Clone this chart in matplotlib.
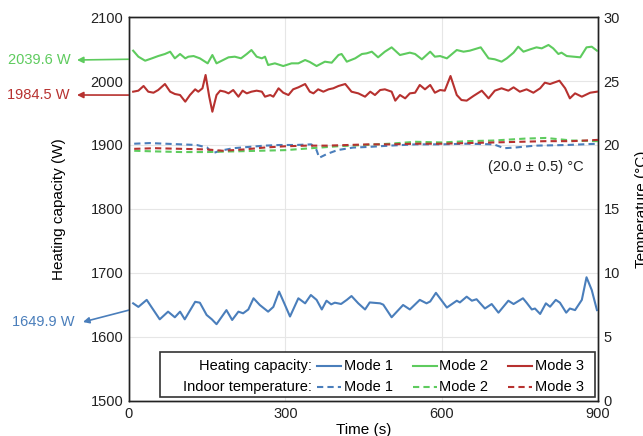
import matplotlib
matplotlib.use('Agg')
import matplotlib.pyplot as plt
from matplotlib.lines import Line2D
from matplotlib.patches import Rectangle

plt.rcParams['font.family'] = ['Liberation Sans', 'DejaVu Sans']

# Heating capacity, mode 1 (time in s, capacity in W)
t_m1 = [8, 18, 34, 43, 59, 75, 88, 98, 107, 127, 136, 149, 159, 168, 187, 198, 210, 219,
        229, 239, 251, 267, 277, 288, 298, 309, 325, 338, 349, 360, 370, 379, 388, 395,
        407, 418, 427, 440, 453, 462, 482, 488, 504, 526, 539, 558, 571, 578, 589, 610,
        629, 635, 648, 658, 667, 683, 696, 709, 728, 738, 756, 763, 773, 779, 789, 800,
        808, 819, 827, 839, 846, 856, 869, 878, 888, 898]
q_m1 = [1652.6, 1647, 1658, 1647, 1627.6, 1639.6, 1630.8, 1639.6, 1627.6, 1655, 1653.6,
        1634.4, 1627.6, 1620, 1642, 1626.6, 1639.6, 1637, 1643, 1660.5, 1650, 1639.6,
        1647, 1671, 1652.6, 1632, 1660.5, 1652.6, 1665.6, 1658, 1643, 1656.7, 1651,
        1653.6, 1651.6, 1658, 1664, 1652.6, 1643, 1654, 1652.6, 1650.5, 1630.8, 1650,
        1643, 1658, 1652.6, 1655.5, 1669, 1646, 1656.7, 1654, 1663, 1656.7, 1659, 1644.5,
        1651.5, 1638, 1656.7, 1651.5, 1660.5, 1653.6, 1643, 1644.5, 1636, 1652.6, 1647.3,
        1658, 1653.6, 1638, 1644.5, 1642, 1658, 1693.3, 1673.4, 1642]

# Heating capacity, mode 2
t_m2 = [8, 18, 31, 44, 56, 69, 79, 88, 98, 108, 114, 124, 136, 151, 160, 168, 178, 191,
        203, 215, 226, 235, 245, 255, 261, 267, 280, 296, 312, 325, 338, 347, 360, 376,
        389, 402, 408, 418, 434, 447, 456, 466, 478, 491, 504, 520, 539, 549, 562, 578,
        587, 597, 610, 629, 642, 654, 675, 690, 702, 715, 725, 738, 747, 757, 770, 782,
        792, 805, 814, 824, 830, 840, 853, 866, 878, 888, 898]
q_m2 = [2047.4, 2038, 2031.7, 2035.4, 2039, 2042.2, 2045.8, 2035.4, 2042.2, 2035.4, 2038,
        2039, 2035.4, 2027.6, 2040.6, 2027.6, 2031.7, 2037, 2038, 2035.4, 2042.2, 2048.4,
        2038, 2035.4, 2038, 2025, 2027.6, 2023.4, 2027.6, 2027.6, 2032.8, 2029.7, 2023.4,
        2030.2, 2028.6, 2040.6, 2042.2, 2030.2, 2035.4, 2042.2, 2043.2, 2045.8, 2037,
        2045.8, 2052.6, 2040.6, 2044.3, 2042.2, 2033.9, 2045.8, 2038, 2039, 2035.4,
        2048.4, 2045.8, 2047.4, 2052.6, 2035.4, 2033.9, 2030.2, 2035.4, 2044.3, 2053.6,
        2045.8, 2049.5, 2052.6, 2051, 2056.3, 2051, 2042.2, 2044.3, 2039, 2038, 2037,
        2052.6, 2053.6, 2047.4]

# Heating capacity, mode 3
t_m3 = [8, 18, 28, 37, 47, 56, 69, 79, 88, 98, 108, 117, 127, 133, 141, 147, 154, 160,
        168, 175, 184, 191, 200, 210, 218, 226, 235, 245, 255, 261, 271, 277, 287, 296,
        306, 315, 325, 338, 347, 354, 363, 373, 383, 392, 402, 415, 427, 440, 453, 463,
        472, 482, 491, 504, 511, 520, 530, 539, 549, 558, 568, 578, 587, 597, 606, 617,
        629, 638, 648, 661, 677, 690, 702, 715, 728, 738, 750, 763, 776, 789, 798, 808,
        826, 837, 846, 856, 869, 885, 898]
q_m3 = [1983.3, 1984.9, 1992.2, 1983.3, 1981.7, 1985.9, 1995.3, 1983.3, 1979.7, 1978.1,
        1967.7, 1978.1, 1987, 1983.3, 1988.6, 2009.4, 1975.5, 1952, 1978.1, 1984.9,
        1983.3, 1980.7, 1985.9, 1975.5, 1984.9, 1980.7, 1983.3, 1984.9, 1983.3, 1975.5,
        1978.1, 1975.5, 1988.6, 1981.7, 1978.1, 1987, 1990.1, 1995.3, 1983.3, 1980.7,
        1987, 1983.3, 1987, 1988.6, 1992.2, 1995.3, 1983.3, 1980.7, 1975.5, 1983.3,
        1978.1, 1985.9, 1987, 1983.3, 1969.3, 1978.1, 1972.9, 1980.7, 1981.7, 1993.8,
        1987, 1993.8, 1981.7, 1985.9, 1984.9, 2007.8, 1978.1, 1970.3, 1969.3, 1976.6,
        1984.9, 1972.9, 1984.9, 1988.6, 1984.9, 1990.1, 1983.3, 1987, 1981.7, 1988.6,
        1997.4, 1995.3, 2000.5, 1988.6, 1972.9, 1980.7, 1975.5, 1981.7, 1983.3]

# Indoor temperature (°C)
t_T1 = [10, 40, 70, 100, 130, 150, 160, 175, 200, 230, 260, 290, 320, 350, 360, 365, 380,
        400, 430, 460, 500, 550, 600, 650, 700, 720, 740, 780, 840, 900]
T_m1 = [20.1, 20.15, 20.1, 20.05, 20.0, 19.8, 19.35, 19.55, 19.75, 19.85, 19.95, 20.0,
        20.0, 20.05, 19.6, 19.0, 19.3, 19.6, 19.8, 19.85, 19.95, 20.05, 20.05, 20.1,
        20.05, 19.75, 19.8, 19.95, 20.0, 20.1]
t_T2 = [10, 50, 100, 150, 200, 250, 300, 350, 400, 450, 500, 550, 600, 650, 700, 760,
        800, 850, 900]
T_m2 = [19.55, 19.5, 19.45, 19.45, 19.5, 19.55, 19.6, 19.75, 19.9, 20.0, 20.1, 20.25,
        20.2, 20.3, 20.35, 20.5, 20.55, 20.35, 20.3]
t_T3 = [10, 50, 100, 150, 180, 220, 260, 300, 340, 380, 420, 460, 500, 550, 600, 650,
        700, 750, 800, 850, 900]
T_m3 = [19.7, 19.75, 19.7, 19.65, 19.55, 19.65, 19.8, 19.9, 19.95, 19.95, 20.0, 20.05,
        20.05, 20.1, 20.1, 20.15, 20.2, 20.25, 20.3, 20.3, 20.4]

modes = ['Mode 1', 'Mode 2', 'Mode 3']
colors = ['#4a7ebb', '#5ecb5e', '#b7312f']
mean_labels = ['1649.9 W', '2039.6 W', '1984.5 W']

fig = plt.figure(figsize=(6.43, 4.36), dpi=100)
ax = fig.add_axes([0.2006, 0.0803, 0.7294, 0.8807])
ax2 = ax.twinx()

# capacity lines
for t, q, c in zip([t_m1, t_m2, t_m3], [q_m1, q_m2, q_m3], colors):
    ax.plot(t, q, color=c, lw=1.5, solid_joinstyle='round', zorder=3)

# temperature lines (dashed)
for t, T, c in zip([t_T1, t_T2, t_T3], [T_m1, T_m2, T_m3], colors):
    ax2.plot(t, T, color=c, lw=1.5, dashes=(3, 2))

ax.set_xlim(0, 900)
ax.set_ylim(1500, 2100)
ax.set_xticks([0, 300, 600, 900])
ax.set_yticks(range(1500, 2101, 100))
ax2.set_ylim(0, 30)
ax2.set_yticks(range(0, 31, 5))
ax.grid(True, color='#e6e6e6', lw=0.8)
ax.set_axisbelow(True)
for a in (ax, ax2):
    a.tick_params(length=0, labelsize=10.5, pad=4, colors='#222222')
    for s in a.spines.values():
        s.set_color('#222222')
        s.set_linewidth(1.0)
ax.set_xlabel('Time (s)', fontsize=11, labelpad=2)
ax.set_ylabel('Heating capacity (W)', fontsize=11, labelpad=18)
ax2.set_ylabel('Temperature (°C)', fontsize=11, labelpad=11)

ax.text(781, 1866, '(20.0 ± 0.5) °C', fontsize=10.5, ha='center', va='center',
        color='#222222')

# mean value arrows on the left
arrow_y = [1642, 2034, 1978]
head_px = [(83, 114), (77, 376), (77, 341)]
text_px = [(12, 114), (8, 376), (7, 341)]
for lab, c, y, hp, tp in zip(mean_labels, colors, arrow_y, head_px, text_px):
    ax.annotate('', xy=hp, xycoords='figure pixels', xytext=(0, y), textcoords='data',
                arrowprops=dict(arrowstyle='-|>', color=c, lw=1.2, mutation_scale=9,
                                shrinkA=0, shrinkB=0), annotation_clip=False)
    fig.text(tp[0], tp[1], lab, transform=None, color=c, fontsize=10.5,
             ha='left', va='center')

# custom two-row legend
ax2.add_patch(Rectangle((0.066, 0.010), 0.928, 0.118, transform=ax.transAxes,
                        fill=True, facecolor='white', edgecolor='#333333', lw=1.2,
                        zorder=5))
row_y = [0.091, 0.036]
row_titles = ['Heating capacity:', 'Indoor temperature:']
row_styles = ['-', (0, (3, 2))]
hx = [(0.400, 0.453), (0.606, 0.656), (0.809, 0.859)]
for ry, title, ls in zip(row_y, row_titles, row_styles):
    ax2.text(0.390, ry, title, transform=ax.transAxes, fontsize=10.5, ha='right',
             va='center', zorder=6)
    for (x0, x1), c, m in zip(hx, colors, modes):
        ax2.add_line(Line2D([x0, x1], [ry, ry], transform=ax.transAxes, color=c, lw=1.5,
                            linestyle=ls, zorder=6))
        ax2.text(x1 + 0.006, ry, m, transform=ax.transAxes, fontsize=10.5, ha='left',
                 va='center', zorder=6)

fig.savefig('out.png', dpi=100)
